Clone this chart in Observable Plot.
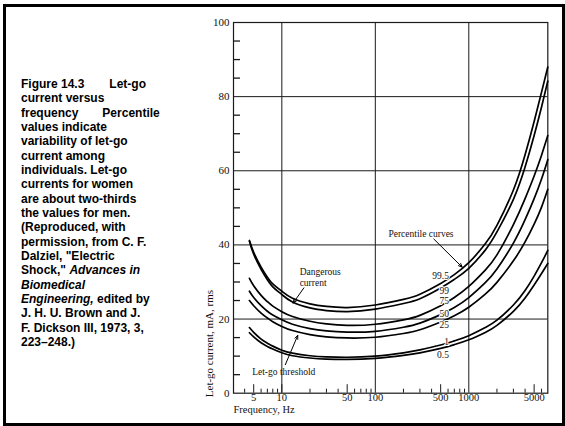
<!DOCTYPE html>
<html><head><meta charset="utf-8">
<script src="https://cdn.jsdelivr.net/npm/d3@7"></script>
<script src="https://cdn.jsdelivr.net/npm/@observablehq/plot@0.6"></script>
<style>
html,body{margin:0;padding:0;background:#fff;}
#wrap{position:relative;width:565px;height:426px;overflow:hidden;background:#fff;}
#chart{position:absolute;left:0;top:0;}
#border{position:absolute;left:3px;top:4px;width:562px;height:422px;box-sizing:border-box;border:3px solid #000;}
#caption{position:absolute;left:21px;top:77px;font:bold 12px/14.33px "Liberation Sans",Arial,sans-serif;color:#000;white-space:nowrap;}
</style></head><body>
<div id="wrap">
<div id="chart"></div>
<div id="caption">Figure 14.3<span style="margin-left:25px">Let-go</span><br>current versus<br>frequency<span style="margin-left:24px">Percentile</span><br>values indicate<br>variability of let-go<br>current among<br>individuals. Let-go<br>currents for women<br>are about two-thirds<br>the values for men.<br>(Reproduced, with<br>permission, from C. F.<br>Dalziel, "Electric<br>Shock," <i>Advances in</i><br><i>Biomedical</i><br><i>Engineering,</i> edited by<br>J. H. U. Brown and J.<br>F. Dickson III, 1973, 3,<br>223–248.)</div>
<div id="border"></div>
</div>
<script>
// Frequency (Hz) sample points
const freq = [4.5, 5, 6, 7, 8, 10, 13, 20, 30, 50, 100, 200, 300, 500, 700, 1000, 1500, 2000, 3000, 4000, 5000, 6000, 7000];
// Let-go current (mA rms) per percentile curve
const p99_5 = [41.2, 38.0, 34.0, 31.3, 29.5, 27.5, 25.6, 24.1, 23.4, 23.1, 23.8, 25.3, 26.7, 29.6, 32.0, 35.2, 40.3, 45.3, 54.8, 64.3, 73.3, 81.2, 88.0];
const p99   = [41.0, 37.5, 33.4, 30.6, 28.7, 26.6, 24.6, 23.0, 22.3, 22.0, 22.7, 24.2, 25.5, 28.4, 30.7, 33.7, 38.6, 43.5, 52.3, 61.0, 69.5, 77.2, 84.2];
const p75   = [31.0, 29.0, 26.4, 24.7, 23.5, 22.0, 20.7, 19.4, 18.7, 18.3, 18.6, 19.8, 21.0, 23.6, 25.8, 28.8, 33.2, 37.3, 45.5, 52.5, 58.6, 64.2, 69.5];
const p50   = [27.5, 25.8, 23.6, 22.1, 21.1, 19.8, 18.6, 17.4, 16.8, 16.5, 16.7, 17.8, 18.9, 21.2, 23.1, 25.8, 29.8, 33.5, 40.5, 46.8, 52.5, 57.8, 63.0];
const p25   = [25.0, 23.6, 21.6, 20.3, 19.3, 18.0, 16.9, 15.8, 15.2, 14.9, 15.1, 16.1, 17.1, 19.2, 20.9, 23.2, 26.7, 29.9, 35.7, 40.8, 45.6, 50.2, 55.0];
const p1    = [17.7, 16.4, 14.6, 13.5, 12.7, 11.6, 10.8, 10.1, 9.8, 9.7, 10.0, 10.9, 11.7, 13.0, 14.1, 15.5, 17.7, 19.7, 23.8, 27.7, 31.6, 35.2, 38.5];
const p0_5  = [16.3, 15.2, 13.6, 12.6, 11.9, 10.9, 10.1, 9.5, 9.2, 9.1, 9.4, 10.2, 10.9, 12.1, 13.1, 14.4, 16.4, 18.3, 22.1, 25.7, 29.2, 32.3, 35.0];
const seriesNames = ["99.5", "99", "75", "50", "25", "1", "0.5"];
const seriesValues = [p99_5, p99, p75, p50, p25, p1, p0_5];

// Curve labels (frequency, current) where the labels sit
const labelText = ["99.5", "99", "75", "50", "25", "1", "0.5"];
const labelFreq = [614, 614, 614, 614, 614, 614, 614];
const labelVal  = [31.5, 27.6, 24.9, 21.3, 18.5, 13.9, 10.2];

// Annotations
const noteText = ["Dangerous\ncurrent", "Let-go threshold", "Percentile curves"];
const noteFreq = [15.5, 4.82, 138];
const noteVal  = [31.35, 5.85, 43.1];
const arrowFrom = [[17.2, 28.4], [10.9, 7.7], [422, 41.6]];
const arrowTo   = [[13.2, 24.3], [14.8, 15.6], [850, 34.0]];

// Axes
const xTickLabels = [5, 10, 50, 100, 500, 1000, 5000];
const xMinorShort = [4, 6, 7, 8, 9, 20, 30, 40, 60, 70, 80, 90, 200, 300, 400, 600, 700, 800, 900, 2000, 3000, 4000, 6000];
const xMinorLong = [5, 10, 50, 500, 5000];
const xGrid = [10, 100, 1000];
const yTickLabels = [0, 20, 40, 60, 80, 100];
const yGrid = [20, 40, 60, 80];
const yMinor = [5, 10, 15, 25, 30, 35, 45, 50, 55, 65, 70, 75, 85, 90, 95];

const rows = seriesNames.flatMap((s, k) => freq.map((f, i) => ({series: s, f, v: seriesValues[k][i]})));
const labels = labelText.map((t, i) => ({t, f: labelFreq[i], v: labelVal[i]}));
const notes = noteText.map((t, i) => ({t, f: noteFreq[i], v: noteVal[i]}));
const arrows = arrowFrom.map((a, i) => ({x1: a[0], y1: a[1], x2: arrowTo[i][0], y2: arrowTo[i][1]}));

const W = 565, H = 426, mL = 233, mT = 22, mR = 17.7, mB = 33.3;
const fw = W - mL - mR, fh = H - mT - mB;
const ink = "#1a1a1a";

const chart = Plot.plot({
  width: W, height: H,
  marginLeft: mL, marginTop: mT, marginRight: mR, marginBottom: mB,
  style: {fontFamily: "'Liberation Serif','Times New Roman',serif", background: "transparent", color: "#111"},
  x: {type: "log", domain: [3.04, 7000], axis: null},
  y: {domain: [0, 100]},
  marks: [
    Plot.gridX(xGrid, {stroke: ink, strokeOpacity: 1, strokeWidth: 1}),
    Plot.gridY(yGrid, {stroke: ink, strokeOpacity: 1, strokeWidth: 1}),
    Plot.tickX(xMinorShort, {x: d => d, insetTop: fh - 4, stroke: ink}),
    Plot.tickX(xMinorLong, {x: d => d, insetTop: fh - 8.5, stroke: ink}),
    Plot.tickY(yMinor, {y: d => d, insetRight: fw - 7, stroke: ink, strokeWidth: 1.3}),
    Plot.frame({stroke: ink, strokeWidth: 1.2}),
    Plot.line(rows, {x: "f", y: "v", z: "series", curve: "natural", stroke: "#000", strokeWidth: 1.7}),
    Plot.arrow(arrows, {x1: "x1", y1: "y1", x2: "x2", y2: "y2", stroke: "#000", strokeWidth: 1, headLength: 6, headAngle: 45}),
    Plot.text(labels, {x: "f", y: "v", text: "t", textAnchor: "end", fontSize: 9.5, fill: "#111", stroke: "white", strokeWidth: 2, paintOrder: "stroke"}),
    Plot.text(notes, {x: "f", y: "v", text: "t", textAnchor: "start", fontSize: 9.5, lineHeight: 1.16, fill: "#111"}),
    Plot.text(xTickLabels, {x: d => d, frameAnchor: "bottom", dy: 7.5, text: d => String(d), fontSize: 10.5, fill: "#111"}),
    Plot.axisY(yTickLabels, {tickSize: 0, tickPadding: 4, fontSize: 11, label: null}),
    Plot.text(["Let-go current, mA, rms"], {frameAnchor: "bottom-left", dx: -21, dy: 4, rotate: -90, textAnchor: "start", fontSize: 11, fill: "#111"}),
    Plot.text(["Frequency, Hz"], {frameAnchor: "bottom-left", dy: 19.5, textAnchor: "start", fontSize: 10.5, fill: "#111"})
  ]
});
document.getElementById("chart").appendChild(chart);
</script>
</body></html>
